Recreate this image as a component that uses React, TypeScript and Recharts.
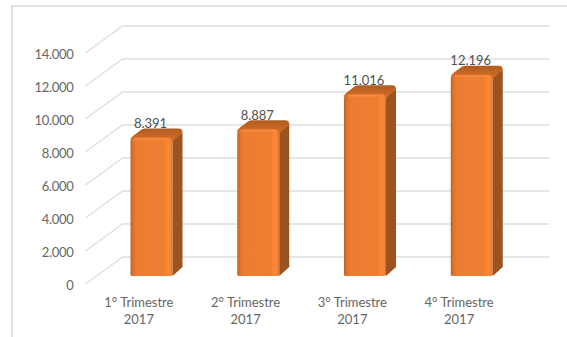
import { BarChart, Bar, CartesianGrid, LabelList, XAxis, YAxis } from "recharts";

const quarters = ["1° Trimestre", "2° Trimestre", "3° Trimestre", "4° Trimestre"];
const years = ["2017", "2017", "2017", "2017"];
const sales = [8391, 8887, 11016, 12196];
const yTicks = [0, 2000, 4000, 6000, 8000, 10000, 12000, 14000];

const chartData = quarters.map((quarter, i) => ({
  quarter,
  year: years[i],
  sales: sales[i],
}));

const FONT = "Lato, Carlito, sans-serif";

// perspective of the back wall relative to the front plane
const DEPTH_X = 37;
const DEPTH_Y = 27;

// where the columns stand inside that depth, and how deep they are
const BAR_SHIFT_X = 13;
const BAR_SHIFT_Y = -8;
const BAR_DEPTH_X = 10;
const BAR_DEPTH_Y = 9;

function formatThousands(value: number) {
  return String(value).replace(/\B(?=(\d{3})+$)/g, ".");
}

function GridLine(props: any) {
  const { x1, x2, y1 } = props;
  const points = `${x1},${y1} ${x1 + DEPTH_X},${y1 - DEPTH_Y} ${x2 + DEPTH_X},${y1 - DEPTH_Y}`;
  return <polyline key={props.key ?? y1} points={points} fill="none" stroke="#dedede" strokeWidth={1.3} />;
}

function Column(props: any) {
  const { x, y, width, height } = props;
  const left = x + BAR_SHIFT_X;
  const right = left + width;
  const top = y + BAR_SHIFT_Y;
  const bottom = top + height;
  const dx = BAR_DEPTH_X;
  const dy = BAR_DEPTH_Y;

  const topFace = `M${left},${top + 3} Q${left},${top} ${left + 3},${top - 2} L${left + dx + 1},${top - dy + 1}
    Q${left + dx + 3},${top - dy} ${left + dx + 5},${top - dy} L${right + dx - 4},${top - dy}
    Q${right + dx},${top - dy} ${right + dx},${top - dy + 4} L${right},${top + 4} Z`;
  const side = `M${right},${top + 2} L${right + dx},${top - dy + 4} L${right + dx},${bottom - dy} L${right},${bottom} Z`;
  const front = `M${left},${top + 5} Q${left},${top} ${left + 5},${top} L${right - 5},${top}
    Q${right},${top} ${right},${top + 5} L${right},${bottom - 2} Q${right},${bottom} ${right - 3},${bottom}
    L${left + 1},${bottom} Q${left},${bottom} ${left},${bottom - 2} Z`;

  return (
    <g>
      <path d={side} fill="#9b5320" />
      <path d={topFace} fill="url(#columnTop)" />
      <path d={front} fill="url(#columnFront)" />
      <path d={`M${left + 4},${top + 1.5} L${right - 4},${top + 1.5}`} stroke="#f58a3e" strokeWidth={2} />
    </g>
  );
}

function ValueLabel(props: any) {
  const { x, y, width, value } = props;
  return (
    <text
      x={x + width / 2 + 12}
      y={y - 17.5}
      textAnchor="middle"
      fontFamily={FONT}
      fontSize={13}
      fill="#505050"
    >
      {formatThousands(value)}
    </text>
  );
}

function QuarterTick(props: any) {
  const { x, y, index } = props;
  return (
    <text x={x} textAnchor="middle" fontFamily={FONT} fontSize={13} fill="#666666">
      <tspan x={x} y={y + 15}>{quarters[index]}</tspan>
      <tspan x={x} y={y + 32}>{years[index]}</tspan>
    </text>
  );
}

export default function App() {
  return (
    <div
      style={{
        position: "absolute",
        left: 0,
        top: 0,
        width: 567,
        height: 337,
        background: "#ffffff",
        overflow: "hidden",
      }}
    >
      <div
        style={{
          position: "absolute",
          left: 11,
          top: 5,
          width: 556,
          height: 332,
          borderLeft: "2px solid #e2e2e2",
          borderTop: "2px solid #e2e2e2",
          boxSizing: "border-box",
        }}
      />
      <BarChart
        width={567}
        height={337}
        data={chartData}
        margin={{ top: 53, right: 54.5, bottom: 0, left: 0 }}
        barSize={42}
        style={{ position: "absolute", left: 0, top: 0 }}
      >
        <defs>
          <linearGradient id="columnFront" x1="0" y1="0" x2="1" y2="0">
            <stop offset="0%" stopColor="#bd6226" />
            <stop offset="7%" stopColor="#e0742c" />
            <stop offset="16%" stopColor="#ed7d31" />
            <stop offset="78%" stopColor="#ef7e31" />
            <stop offset="90%" stopColor="#fd8836" />
            <stop offset="97%" stopColor="#f08034" />
            <stop offset="100%" stopColor="#c56a2a" />
          </linearGradient>
          <linearGradient id="columnTop" x1="0" y1="1" x2="0" y2="0">
            <stop offset="0%" stopColor="#d86f28" />
            <stop offset="100%" stopColor="#b05c20" />
          </linearGradient>
        </defs>
        <CartesianGrid vertical={false} horizontal={GridLine as any} />
        <XAxis
          dataKey="quarter"
          axisLine={false}
          tickLine={false}
          interval={0}
          tick={QuarterTick as any}
          height={53}
        />
        <YAxis
          domain={[0, 14000]}
          ticks={yTicks}
          axisLine={false}
          tickLine={false}
          tickMargin={6}
          width={85.5}
          tickFormatter={formatThousands}
          tick={{ fontFamily: FONT, fontSize: 13, fill: "#666666", letterSpacing: -0.3, dy: 1 }}
        />
        <Bar dataKey="sales" shape={Column as any} isAnimationActive={false}>
          <LabelList dataKey="sales" content={ValueLabel as any} />
        </Bar>
      </BarChart>
    </div>
  );
}
